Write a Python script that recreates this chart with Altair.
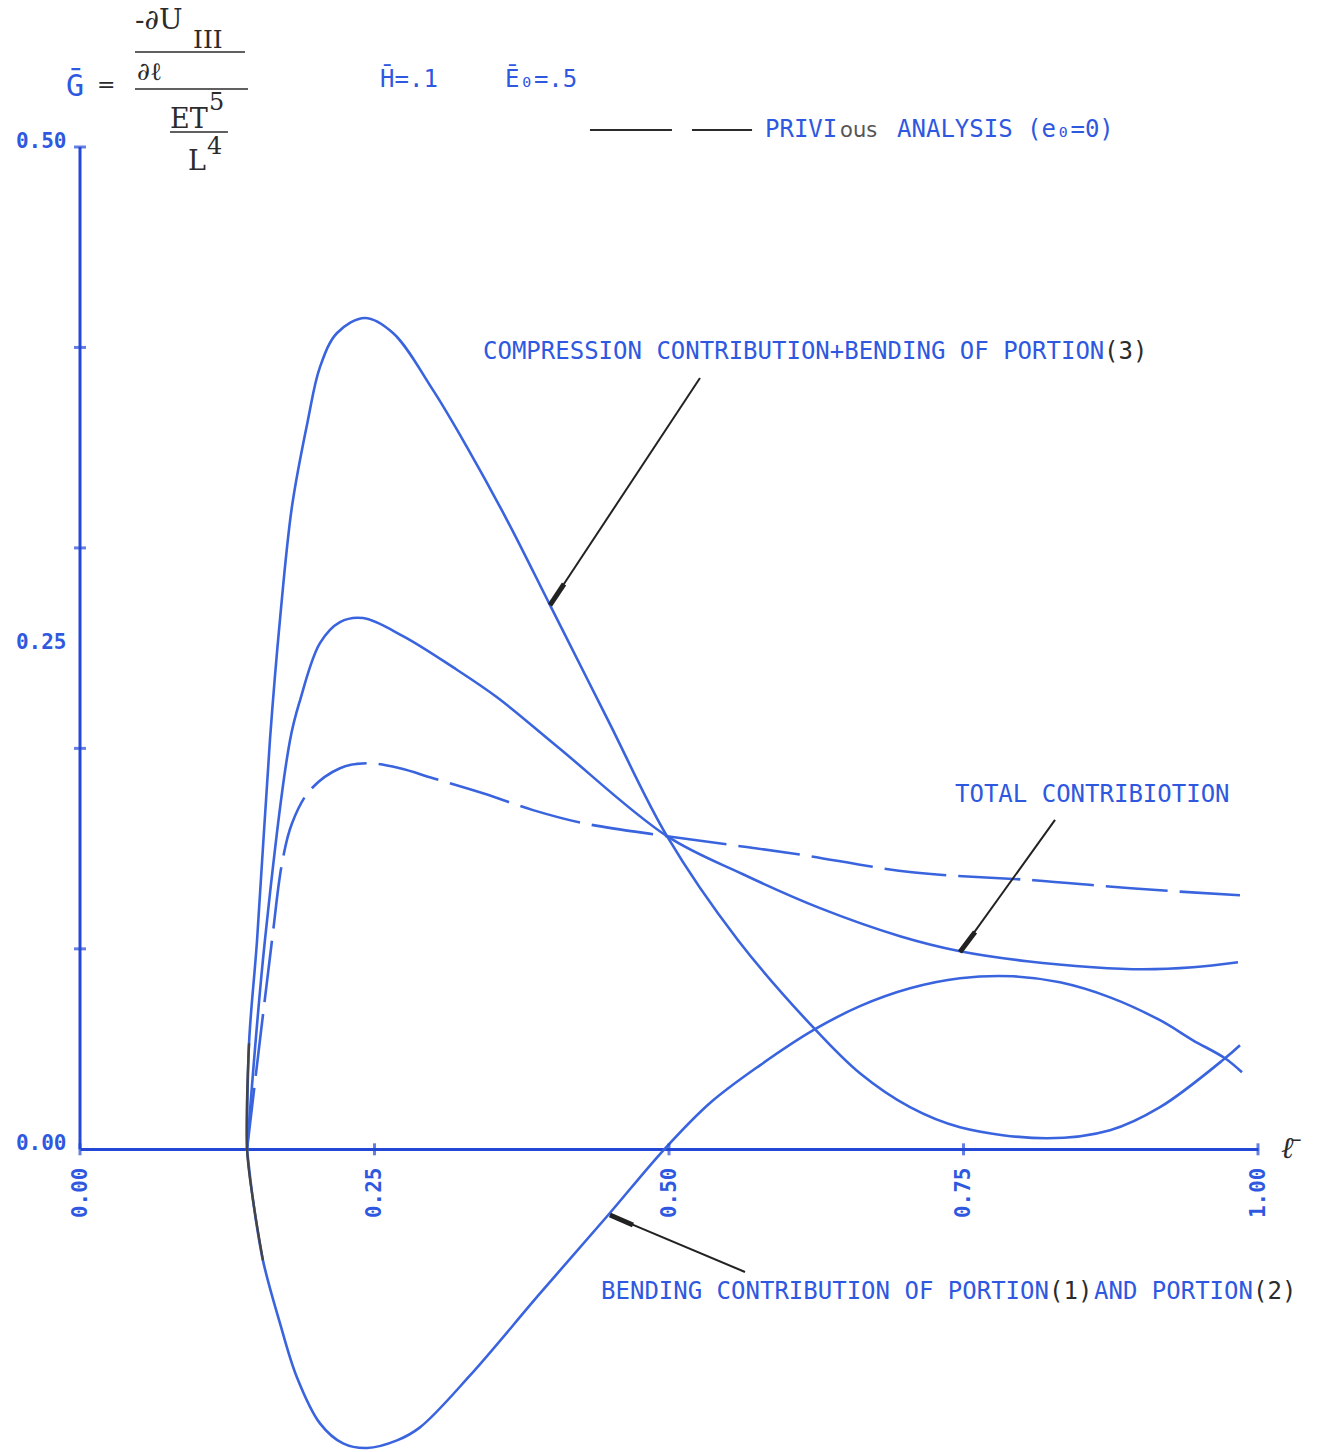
import altair as alt
import pandas as pd

# colours of the plotter pens and of the hand-inked notes
BLUE_LINE = "#3a64de"
BLUE_AXIS = "#2448d6"
BLUE_TEXT = "#2f58e0"
INK = "#2b2b2b"

PLOT_FONT = "DejaVu Sans Mono"
TYPE_FONT = "DejaVu Serif"

# ---- curve samples: normalised length l and normalised force G ----
comp_l = [0.1418, 0.1435, 0.1503, 0.1613, 0.1698, 0.1800, 0.1935, 0.2037, 0.2182,
          0.2419, 0.2657, 0.2997, 0.3285, 0.3625, 0.3990, 0.4482, 0.4983, 0.5586,
          0.6239, 0.6621, 0.7046, 0.7470, 0.8209, 0.8744, 0.9168, 0.9720, 0.9847]
comp_g = [0.0000, 0.0529, 0.1043, 0.2046, 0.2645, 0.3209, 0.3638, 0.3902, 0.4072,
          0.4147, 0.4072, 0.3787, 0.3503, 0.3139, 0.2715, 0.2141, 0.1562, 0.1043,
          0.0599, 0.0379, 0.0210, 0.0110, 0.0055, 0.0095, 0.0210, 0.0454, 0.0519]

total_l = [0.1418, 0.1570, 0.1783, 0.1868, 0.2037, 0.2207, 0.2402, 0.2742, 0.3166,
           0.3540, 0.4058, 0.4983, 0.5628, 0.6282, 0.6961, 0.7470, 0.8039, 0.8599,
           0.9024, 0.9448, 0.9830]
total_g = [0.0000, 0.1043, 0.2041, 0.2240, 0.2525, 0.2630, 0.2650, 0.2560, 0.2405,
           0.2255, 0.2006, 0.1562, 0.1372, 0.1203, 0.1063, 0.0988, 0.0938, 0.0908,
           0.0898, 0.0908, 0.0933]

bend_l = [0.1418, 0.1469, 0.1553, 0.1698, 0.1842, 0.2037, 0.2233, 0.2436, 0.2691,
          0.2886, 0.3311, 0.3905, 0.4482, 0.4960, 0.5348, 0.5772, 0.6239, 0.6621,
          0.7046, 0.7470, 0.7920, 0.8319, 0.8744, 0.9168, 0.9448, 0.9720, 0.9864]
bend_g = [0.0000, -0.0254, -0.0554, -0.0868, -0.1138, -0.1367, -0.1467, -0.1490, -0.1452,
          -0.1387, -0.1128, -0.0719, -0.0329, 0.0000, 0.0231, 0.0419, 0.0599, 0.0714,
          0.0803, 0.0853, 0.0863, 0.0833, 0.0758, 0.0644, 0.0544, 0.0454, 0.0384]

# previous analysis (e0 = 0), dashed
prev_l = [0.1418, 0.1630, 0.1715, 0.1800, 0.1952, 0.2207, 0.2436, 0.2716, 0.2997,
          0.3421, 0.3846, 0.4270, 0.4983, 0.6036, 0.7063, 0.8098, 0.8922, 0.9847]
prev_g = [0.0000, 0.1043, 0.1427, 0.1627, 0.1791, 0.1901, 0.1926, 0.1901, 0.1851,
          0.1776, 0.1692, 0.1627, 0.1562, 0.1477, 0.1382, 0.1342, 0.1302, 0.1267]

# axis marks
x_tick_values = [0.0, 0.25, 0.5, 0.75, 1.0]
y_label_values = [0.0, 0.25, 0.5]
y_tick_values = [0.1, 0.2, 0.3, 0.4, 0.5]

# plotter-pen annotations: text, l, G, colour, font size
plot_notes = [
    ("COMPRESSION CONTRIBUTION+BENDING OF PORTION", 0.3421, 0.3977, BLUE_TEXT, 24),
    ("(3)", 0.8693, 0.3977, INK, 24),
    ("TOTAL CONTRIBIOTION", 0.7428, 0.1767, BLUE_TEXT, 24),
    ("BENDING CONTRIBUTION OF PORTION", 0.4423, -0.0712, BLUE_TEXT, 24),
    ("(1)", 0.8226, -0.0712, INK, 24),
    ("AND PORTION", 0.8608, -0.0712, BLUE_TEXT, 24),
    ("(2)", 0.9958, -0.0712, INK, 24),
    ("PRIVI", 0.5815, 0.5085, BLUE_TEXT, 24),
    ("ANALYSIS (e₀=0)", 0.6936, 0.5085, BLUE_TEXT, 24),
    ("H̄=.1", 0.2547, 0.5334, BLUE_TEXT, 24),
    ("Ē₀=.5", 0.3608, 0.5334, BLUE_TEXT, 24),
    ("Ḡ", -0.0119, 0.5299, BLUE_TEXT, 30),
]

# typed definition of G: text, l, G, font size
formula_text = ["=", "-∂U", "III", "∂ℓ", "ET", "5", "L", "4"]
formula_l = [0.0144, 0.0467, 0.0960, 0.0484, 0.0764, 0.1095, 0.0917, 0.1078]
formula_g = [0.5309, 0.5629, 0.5534, 0.5374, 0.5135, 0.5220, 0.4925, 0.5000]
formula_size = [22, 28, 25, 25, 27, 24, 27, 24]

# fraction bars of the definition: l, l2, G
bar_l = [0.0467, 0.0467, 0.0764]
bar_l2 = [0.1401, 0.1426, 0.1256]
bar_g = [0.5474, 0.5289, 0.5075]

# leader arrows: tail (l, G) -> tip (l2, G2), and the heavier arrow heads
arrow_l = [0.5263, 0.8277, 0.5645]
arrow_g = [0.3848, 0.1643, -0.0612]
arrow_l2 = [0.3990, 0.7470, 0.4499]
arrow_g2 = [0.2715, 0.0984, -0.0328]
head_l = [0.4109, 0.7598, 0.4694]
head_g = [0.2820, 0.1084, -0.0378]

# legend dash sample
legend_l, legend_l2, legend_g = 0.4329, 0.5705, 0.5085

# ---- tables ----
curves = pd.concat([
    pd.DataFrame({"l": comp_l, "G": comp_g, "curve": "compression"}),
    pd.DataFrame({"l": total_l, "G": total_g, "curve": "total"}),
    pd.DataFrame({"l": bend_l, "G": bend_g, "curve": "bending"}),
], ignore_index=True)
prev = pd.DataFrame({"l": prev_l, "G": prev_g})

# hand-inked retouch where the curves leave the axis
ink_up = pd.DataFrame({"l": comp_l, "G": comp_g})
ink_up = ink_up[(ink_up["G"] <= 0.053) & (ink_up["l"] < 0.2)]
ink_down = pd.DataFrame({"l": bend_l, "G": bend_g})
ink_down = ink_down[(ink_down["G"] >= -0.056) & (ink_down["l"] < 0.2)]
ink = pd.concat([ink_up.iloc[::-1], ink_down.iloc[1:]], ignore_index=True)
ink["order"] = range(len(ink))

x_ticks = pd.DataFrame({"l": x_tick_values, "G": 0.0})
y_ticks = pd.DataFrame({"l": 0.0, "G": y_tick_values})
y_line = pd.DataFrame({"l": [0.0], "G": [0.0], "G2": [0.5]})

notes = pd.DataFrame(plot_notes, columns=["text", "l", "G", "c", "fs"])
formula = pd.DataFrame({"text": formula_text, "l": formula_l, "G": formula_g, "fs": formula_size})
bars = pd.DataFrame({"l": bar_l, "l2": bar_l2, "G": bar_g, "G2": bar_g})
arrows = pd.DataFrame({"l": arrow_l, "G": arrow_g, "l2": arrow_l2, "G2": arrow_g2})
heads = pd.DataFrame({"l": head_l, "G": head_g, "l2": arrow_l2, "G2": arrow_g2})
legend = pd.DataFrame({"l": [legend_l], "l2": [legend_l2], "G": [legend_g], "G2": [legend_g]})
ous = pd.DataFrame({"text": ["ous"], "l": [0.6452], "G": [0.5080]})
lbar = pd.DataFrame({"text": ["ℓ̄"], "l": [1.0195], "G": [0.0]})

# ---- shared scales and axes ----
X = alt.X(
    "l:Q",
    scale=alt.Scale(domain=[0, 1], nice=False, zero=False),
    axis=alt.Axis(
        values=x_tick_values, format=".2f", labelAngle=270, offset=-301,
        ticks=False, grid=False, title=None,
        domainColor=BLUE_AXIS, domainWidth=3,
        labelColor=BLUE_TEXT, labelFont=PLOT_FONT, labelFontSize=21,
        labelFontWeight="bold", labelPadding=18,
    ),
)
Y = alt.Y(
    "G:Q",
    scale=alt.Scale(domain=[-0.15, 0.5], nice=False, zero=False),
    axis=alt.Axis(
        values=y_label_values, format=".2f", domain=False, ticks=False,
        grid=False, title=None,
        labelColor=BLUE_TEXT, labelFont=PLOT_FONT, labelFontSize=21,
        labelFontWeight="bold", labelPadding=14, labelOffset=-6,
    ),
)

solid = alt.Chart(curves).mark_line(
    color=BLUE_LINE, strokeWidth=2.6, interpolate="catmull-rom"
).encode(x=X, y=Y, detail="curve:N")

dashed = alt.Chart(prev).mark_line(
    color=BLUE_LINE, strokeWidth=2.6, interpolate="catmull-rom", strokeDash=[62, 12]
).encode(x=X, y=Y)

retouch = alt.Chart(ink).mark_line(
    color="#444444", strokeWidth=2.4, interpolate="catmull-rom"
).encode(x=X, y=Y, order="order:Q")

y_axis_line = alt.Chart(y_line).mark_rule(color=BLUE_AXIS, strokeWidth=3).encode(
    x=X, y=Y, y2="G2:Q"
)

x_tick_marks = alt.Chart(x_ticks).mark_tick(
    orient="vertical", color=BLUE_AXIS, size=12, thickness=3
).encode(x=X, y=Y)

y_tick_marks = alt.Chart(y_ticks).mark_tick(
    orient="horizontal", color=BLUE_AXIS, size=12, thickness=3
).encode(x=X, y=Y)

arrow_lines = alt.Chart(arrows).mark_rule(color="#222222", strokeWidth=2).encode(
    x=X, y=Y, x2="l2:Q", y2="G2:Q"
)
arrow_heads = alt.Chart(heads).mark_rule(color="#222222", strokeWidth=5).encode(
    x=X, y=Y, x2="l2:Q", y2="G2:Q"
)

legend_dash = alt.Chart(legend).mark_rule(
    color=INK, strokeWidth=2, strokeDash=[82, 20]
).encode(x=X, y=Y, x2="l2:Q", y2="G2:Q")

note_text = alt.Chart(notes).mark_text(
    align="left", baseline="middle", font=PLOT_FONT
).encode(
    x=X, y=Y, text="text:N",
    color=alt.Color("c:N", scale=None),
    size=alt.Size("fs:Q", scale=None),
)

formula_marks = alt.Chart(formula).mark_text(
    align="left", baseline="middle", font=TYPE_FONT, color=INK
).encode(x=X, y=Y, text="text:N", size=alt.Size("fs:Q", scale=None))

formula_bars = alt.Chart(bars).mark_rule(color=INK, strokeWidth=1.5).encode(
    x=X, y=Y, x2="l2:Q", y2="G2:Q"
)

ous_text = alt.Chart(ous).mark_text(
    align="left", baseline="middle", font="DejaVu Sans", fontSize=21, color="#555555"
).encode(x=X, y=Y, text="text:N")

l_label = alt.Chart(lbar).mark_text(
    align="left", baseline="middle", font="DejaVu Serif", fontSize=30,
    fontStyle="italic", color=INK
).encode(x=X, y=Y, text="text:N")

chart = alt.layer(
    solid, dashed, retouch, y_axis_line, x_tick_marks, y_tick_marks,
    arrow_lines, arrow_heads, legend_dash, note_text, formula_marks,
    formula_bars, ous_text, l_label,
).properties(
    width=1178,
    height=1303,
    padding={"left": 80, "top": 147, "right": 61, "bottom": 2},
    autosize=alt.AutoSizeParams(type="none"),
    background="white",
).configure_view(strokeWidth=0)

chart.save("out.html", embed_options={"renderer": "svg", "actions": False})
